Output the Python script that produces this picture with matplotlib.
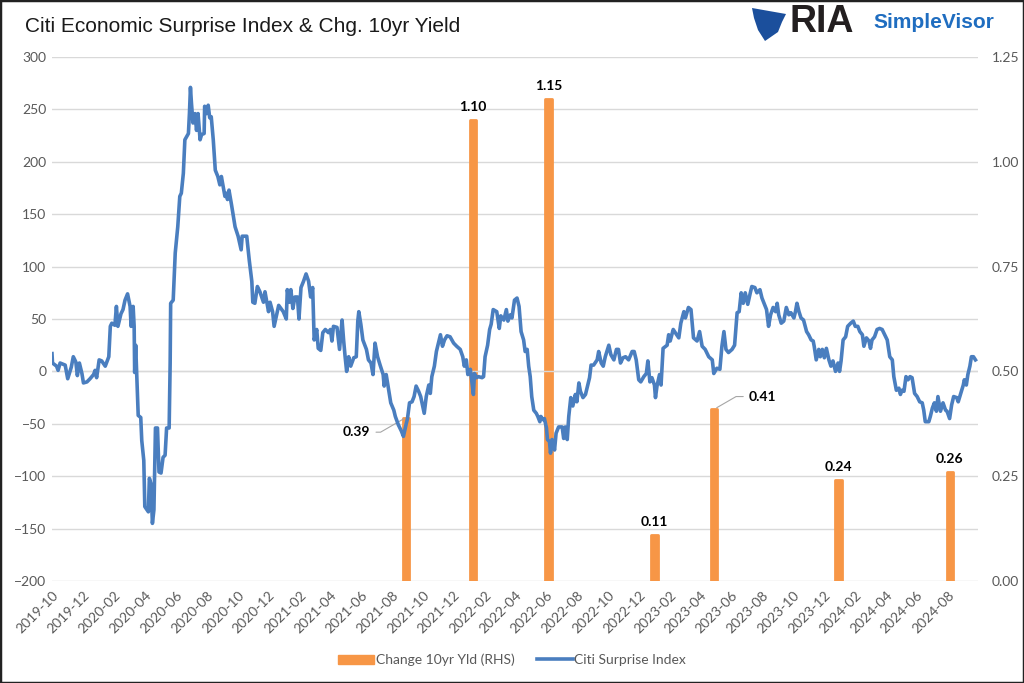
import matplotlib
matplotlib.use("Agg")
import matplotlib.pyplot as plt
import matplotlib.dates as mdates
import matplotlib.patches as patches
import matplotlib.ticker as mticker
import pandas as pd

# ===== DATA =====
surprise_dates = [
    "2019-10-01", "2019-10-02", "2019-10-10", "2019-10-13", "2019-10-17", "2019-10-27", "2019-11-01",
    "2019-11-08", "2019-11-12", "2019-11-17", "2019-11-20", "2019-11-24", "2019-11-29", "2019-12-02",
    "2019-12-09", "2019-12-15", "2019-12-22", "2019-12-25", "2019-12-28", "2020-01-02", "2020-01-07",
    "2020-01-14", "2020-01-21", "2020-01-24", "2020-01-27", "2020-02-02", "2020-02-05", "2020-02-08",
    "2020-02-14", "2020-02-18", "2020-02-22", "2020-02-27", "2020-03-03", "2020-03-05", "2020-03-09",
    "2020-03-11", "2020-03-12", "2020-03-14", "2020-03-16", "2020-03-19", "2020-03-24", "2020-03-26",
    "2020-03-30", "2020-04-01", "2020-04-08", "2020-04-10", "2020-04-13", "2020-04-16", "2020-04-19",
    "2020-04-22", "2020-04-26", "2020-04-29", "2020-05-03", "2020-05-07", "2020-05-11", "2020-05-14",
    "2020-05-19", "2020-05-21", "2020-05-22", "2020-05-27", "2020-05-31", "2020-06-05", "2020-06-09",
    "2020-06-12", "2020-06-16", "2020-06-19", "2020-06-26", "2020-06-28", "2020-06-30", "2020-07-02",
    "2020-07-05", "2020-07-09", "2020-07-12", "2020-07-15", "2020-07-19", "2020-07-22", "2020-07-27",
    "2020-07-28", "2020-08-01", "2020-08-04", "2020-08-07", "2020-08-10", "2020-08-14", "2020-08-18",
    "2020-08-23", "2020-08-27", "2020-08-30", "2020-09-06", "2020-09-09", "2020-09-11", "2020-09-14",
    "2020-09-19", "2020-09-26", "2020-10-02", "2020-10-08", "2020-10-10", "2020-10-15", "2020-10-19",
    "2020-10-24", "2020-10-29", "2020-10-31", "2020-11-04", "2020-11-09", "2020-11-14", "2020-11-21",
    "2020-11-24", "2020-12-01", "2020-12-04", "2020-12-09", "2020-12-12", "2020-12-21", "2020-12-30",
    "2021-01-05", "2021-01-07", "2021-01-11", "2021-01-14", "2021-01-18", "2021-01-22", "2021-01-27",
    "2021-01-30", "2021-02-03", "2021-02-08", "2021-02-13", "2021-02-18", "2021-02-22", "2021-02-26",
    "2021-03-01", "2021-03-06", "2021-03-09", "2021-03-14", "2021-03-18", "2021-03-23", "2021-03-29",
    "2021-04-02", "2021-04-05", "2021-04-08", "2021-04-15", "2021-04-20", "2021-04-25", "2021-04-28",
    "2021-05-01", "2021-05-04", "2021-05-08", "2021-05-12", "2021-05-18", "2021-05-23", "2021-05-26",
    "2021-05-28", "2021-06-01", "2021-06-05", "2021-06-12", "2021-06-16", "2021-06-21", "2021-06-25",
    "2021-06-29", "2021-07-04", "2021-07-09", "2021-07-15", "2021-07-17", "2021-07-21", "2021-07-26",
    "2021-07-30", "2021-08-05", "2021-08-08", "2021-08-14", "2021-08-20", "2021-08-24", "2021-08-29",
    "2021-09-01", "2021-09-05", "2021-09-10", "2021-09-14", "2021-09-18", "2021-09-23", "2021-09-27",
    "2021-10-01", "2021-10-04", "2021-10-08", "2021-10-13", "2021-10-16", "2021-10-19", "2021-10-24",
    "2021-10-28", "2021-11-01", "2021-11-05", "2021-11-09", "2021-11-13", "2021-11-18", "2021-11-24",
    "2021-12-01", "2021-12-07", "2021-12-14", "2021-12-19", "2021-12-22", "2021-12-26", "2021-12-29",
    "2022-01-03", "2022-01-06", "2022-01-09", "2022-01-11", "2022-01-15", "2022-01-19", "2022-01-26",
    "2022-01-29", "2022-02-01", "2022-02-06", "2022-02-10", "2022-02-13", "2022-02-17", "2022-02-24",
    "2022-03-01", "2022-03-04", "2022-03-10", "2022-03-15", "2022-03-18", "2022-03-23", "2022-03-26",
    "2022-03-31", "2022-04-05", "2022-04-09", "2022-04-13", "2022-04-18", "2022-04-21", "2022-04-25",
    "2022-04-28", "2022-05-01", "2022-05-04", "2022-05-08", "2022-05-13", "2022-05-16", "2022-05-20",
    "2022-05-22", "2022-05-26", "2022-05-29", "2022-06-02", "2022-06-04", "2022-06-08", "2022-06-10",
    "2022-06-13", "2022-06-18", "2022-06-21", "2022-06-26", "2022-07-03", "2022-07-06", "2022-07-09",
    "2022-07-13", "2022-07-16", "2022-07-20", "2022-07-24", "2022-07-29", "2022-08-01", "2022-08-05",
    "2022-08-08", "2022-08-13", "2022-08-18", "2022-08-22", "2022-08-26", "2022-08-29", "2022-09-03",
    "2022-09-10", "2022-09-13", "2022-09-18", "2022-09-22", "2022-09-26", "2022-10-03", "2022-10-07",
    "2022-10-13", "2022-10-18", "2022-10-22", "2022-10-26", "2022-10-31", "2022-11-05", "2022-11-11",
    "2022-11-18", "2022-11-22", "2022-11-26", "2022-12-01", "2022-12-05", "2022-12-11", "2022-12-16",
    "2022-12-19", "2022-12-23", "2022-12-27", "2023-01-01", "2023-01-03", "2023-01-06", "2023-01-11",
    "2023-01-14", "2023-01-18", "2023-01-26", "2023-01-29", "2023-02-01", "2023-02-07", "2023-02-11",
    "2023-02-18", "2023-02-22", "2023-02-28", "2023-03-03", "2023-03-09", "2023-03-14", "2023-03-19",
    "2023-03-26", "2023-03-31", "2023-04-05", "2023-04-11", "2023-04-18", "2023-04-25", "2023-04-28",
    "2023-05-04", "2023-05-10", "2023-05-14", "2023-05-18", "2023-05-22", "2023-05-27", "2023-06-03",
    "2023-06-08", "2023-06-13", "2023-06-17", "2023-06-21", "2023-06-25", "2023-06-29", "2023-07-04",
    "2023-07-09", "2023-07-12", "2023-07-18", "2023-07-22", "2023-07-28", "2023-08-01", "2023-08-06",
    "2023-08-10", "2023-08-14", "2023-08-18", "2023-08-23", "2023-08-28", "2023-08-31", "2023-09-03",
    "2023-09-08", "2023-09-13", "2023-09-18", "2023-09-23", "2023-09-27", "2023-10-03", "2023-10-06",
    "2023-10-09", "2023-10-13", "2023-10-17", "2023-10-22", "2023-10-28", "2023-11-01", "2023-11-06",
    "2023-11-10", "2023-11-12", "2023-11-16", "2023-11-21", "2023-11-24", "2023-11-28", "2023-12-02",
    "2023-12-06", "2023-12-11", "2023-12-15", "2023-12-19", "2023-12-24", "2023-12-29", "2024-01-01",
    "2024-01-04", "2024-01-08", "2024-01-13", "2024-01-17", "2024-01-23", "2024-01-28", "2024-02-01",
    "2024-02-06", "2024-02-10", "2024-02-15", "2024-02-18", "2024-02-23", "2024-02-28", "2024-03-02",
    "2024-03-05", "2024-03-10", "2024-03-15", "2024-03-20", "2024-03-25", "2024-03-30", "2024-04-04",
    "2024-04-09", "2024-04-14", "2024-04-17", "2024-04-22", "2024-04-27", "2024-04-30", "2024-05-03",
    "2024-05-07", "2024-05-11", "2024-05-15", "2024-05-19", "2024-05-23", "2024-05-28", "2024-06-02",
    "2024-06-07", "2024-06-12", "2024-06-15", "2024-06-18", "2024-06-25", "2024-06-28", "2024-07-02",
    "2024-07-06", "2024-07-10", "2024-07-13", "2024-07-18", "2024-07-23", "2024-07-28", "2024-07-31",
    "2024-08-05", "2024-08-09", "2024-08-13", "2024-08-19", "2024-08-22", "2024-08-27", "2024-09-01",
    "2024-09-03", "2024-09-07", "2024-09-10", "2024-09-14", "2024-09-17", "2024-09-21", "2024-09-25",
]
surprise_values = [
    17, 8, 5, 1, 8, 6, -7,
    4, 14, 9, -4, 8, -2, -11,
    -10, -7, -3, 1, -6, 11, 10,
    5, 14, 43, 46, 44, 62, 43,
    55, 59, 68, 74, 62, 43, 62,
    43, -1, 25, -2, -42, -44, -66,
    -85, -129, -134, -102, -107, -145, -132,
    -54, -54, -96, -97, -82, -80, -54,
    -54, 8, 65, 68, 113, 138, 167,
    170, 189, 221, 227, 246, 271, 256,
    237, 246, 230, 246, 221, 226, 227,
    253, 246, 254, 242, 243, 221, 192,
    186, 178, 186, 167, 170, 164, 173,
    159, 138, 129, 116, 129, 129, 129,
    106, 86, 66, 65, 81, 76, 66,
    76, 57, 66, 57, 43, 63, 57,
    50, 78, 66, 78, 60, 71, 71,
    50, 80, 86, 93, 86, 71, 80,
    30, 40, 22, 20, 37, 40, 37,
    40, 29, 43, 42, 21, 49, 30,
    14, 0, 14, 5, 13, 14, 48,
    57, 45, 30, 21, 11, 8, -3,
    27, 14, 6, -3, -14, -3, -18,
    -30, -37, -43, -51, -57, -62, -51,
    -45, -30, -29, -24, -14, -19, -24,
    -33, -40, -24, -13, -21, -5, 5,
    19, 27, 35, 24, 30, 34, 33,
    27, 24, 21, 14, 5, 11, -3,
    2, -10, -22, -2, -6, -5, -6,
    -5, 14, 25, 40, 45, 59, 57,
    41, 53, 49, 59, 48, 54, 51,
    68, 70, 62, 38, 30, 19, 21,
    5, -5, -24, -37, -40, -43, -48,
    -43, -46, -45, -54, -65, -67, -78,
    -65, -75, -59, -53, -53, -64, -53,
    -65, -43, -25, -33, -22, -29, -11,
    -19, -25, -22, -14, -6, 6, 6,
    11, 19, 8, 5, 14, 25, 16,
    11, 21, 21, 8, 13, 14, 11,
    19, 19, 11, -8, -10, -5, -2,
    10, -10, -6, -13, -25, -14, -3,
    -13, 22, 25, 35, 29, 40, 37,
    32, 46, 57, 51, 61, 59, 32,
    29, 38, 24, 21, 14, 11, -2,
    3, 2, 24, 38, 21, 18, 21,
    25, 56, 57, 75, 65, 75, 64,
    75, 81, 80, 75, 78, 70, 64,
    59, 43, 54, 61, 57, 65, 54,
    46, 48, 61, 54, 56, 51, 57,
    65, 57, 51, 49, 38, 35, 30,
    29, 24, 11, 21, 14, 21, 13,
    22, 11, 5, 10, 0, 8, 0,
    10, 30, 33, 43, 46, 48, 43,
    43, 38, 35, 24, 32, 29, 22,
    30, 33, 40, 41, 40, 35, 30,
    14, 11, -5, -18, -16, -22, -18,
    -19, -5, -8, -5, -6, -21, -24,
    -29, -30, -37, -48, -48, -43, -35,
    -30, -38, -24, -38, -30, -37, -38,
    -45, -32, -24, -25, -29, -21, -13,
    -8, -13, -3, 5, 14, 14, 11,
]

yield_dates = ["2021-08-29", "2022-01-08", "2022-06-06", "2023-01-01", "2023-04-29", "2023-12-30", "2024-08-05"]
yield_changes = [0.39, 1.10, 1.15, 0.11, 0.41, 0.24, 0.26]

# ===== STYLE =====
blue = "#4A7EBF"
orange = "#F79646"
grey_txt = "#595959"
grid_col = "#D9D9D9"

plt.rcParams["font.family"] = ["Lato", "DejaVu Sans"]

s_dates = pd.to_datetime(surprise_dates)
y_dates = pd.to_datetime(yield_dates)

fig = plt.figure(figsize=(10.24, 6.83), dpi=100)
W, H = 1024, 683
ax2 = fig.add_axes([52 / W, 1 - 581 / H, (978 - 52) / W, (581 - 57) / H])
ax = ax2.twinx()
ax.yaxis.tick_left()
ax2.yaxis.tick_right()
ax.set_zorder(ax2.get_zorder() + 1)
ax.patch.set_visible(False)

# bars (RHS)
ax2.bar(y_dates, yield_changes, width=12, color=orange, edgecolor=orange,
        linewidth=2, joinstyle="round", zorder=2)
ax2.set_ylim(0, 1.25)
ax2.yaxis.set_major_locator(mticker.MultipleLocator(0.25))
ax2.yaxis.set_minor_locator(mticker.MultipleLocator(0.125))
ax2.yaxis.set_major_formatter(mticker.FormatStrFormatter("%.2f"))
ax2.grid(which="both", axis="y", color=grid_col, lw=1, zorder=0)
ax2.set_axisbelow(True)
ax2.tick_params(axis="y", which="both", length=0, pad=10, labelsize=10, labelcolor=grey_txt)

# line (LHS)
ax.axhline(0, color=grid_col, lw=1, zorder=1)
ax.plot(s_dates, surprise_values, color=blue, lw=2.6, solid_joinstyle="round", zorder=3)
ax.set_ylim(-200, 300)
ax.yaxis.set_major_locator(mticker.MultipleLocator(50))
ax.tick_params(axis="y", length=0, pad=4, labelsize=10, labelcolor=grey_txt)

ax2.set_xlim(pd.Timestamp("2019-10-01"), pd.Timestamp("2024-09-30"))
ax2.xaxis.set_major_locator(mdates.MonthLocator(bymonth=[2, 4, 6, 8, 10, 12]))
ax2.xaxis.set_major_formatter(mdates.DateFormatter("%Y-%m"))
ax2.tick_params(axis="x", length=0, pad=6, labelsize=10, labelcolor=grey_txt)
for lab in ax2.get_xticklabels():
    lab.set_rotation(45)
    lab.set_ha("right")
    lab.set_va("top")
    lab.set_rotation_mode("anchor")
ax.tick_params(axis="x", length=0)

for a in (ax, ax2):
    for sp in a.spines.values():
        sp.set_visible(False)

# data labels
for d, v in zip(y_dates, yield_changes):
    txt = f"{v:.2f}"
    if v == 0.39:
        ax2.annotate(txt, xy=(d, v), xytext=(d - pd.Timedelta(days=70), v - 0.035),
                     ha="right", va="center", fontsize=10, fontweight="bold",
                     arrowprops=dict(arrowstyle="-", color="#A6A6A6", lw=0.8,
                                     connectionstyle="angle,angleA=0,angleB=30,rad=0"))
    elif v == 0.41:
        ax2.annotate(txt, xy=(d, v), xytext=(d + pd.Timedelta(days=68), v + 0.03),
                     ha="left", va="center", fontsize=10, fontweight="bold",
                     arrowprops=dict(arrowstyle="-", color="#A6A6A6", lw=0.8,
                                     connectionstyle="angle,angleA=0,angleB=30,rad=0"))
    else:
        ax2.annotate(txt, xy=(d, v), xytext=(0, 5), textcoords="offset points",
                     ha="center", va="bottom", fontsize=10, fontweight="bold")

# legend
handles = [patches.Patch(facecolor=orange, edgecolor=orange, label="Change 10yr Yld (RHS)"),
           plt.Line2D([], [], color=blue, lw=2.6, label="Citi Surprise Index")]
leg = fig.legend(handles=handles, loc="center", bbox_to_anchor=(0.5, 1 - 660 / H), ncol=2,
                 frameon=False, fontsize=10, handlelength=2.6, handletextpad=0.1,
                 columnspacing=1.6)
for t in leg.get_texts():
    t.set_color(grey_txt)

# title and branding
fig.text(25 / W, 1 - 26 / H, "Citi Economic Surprise Index & Chg. 10yr Yield",
         fontsize=15, family="Liberation Sans", color="#1A1A1A", va="center", ha="left")
fig.text(790 / W, 1 - 22 / H, "RIA", fontsize=27, fontweight="bold",
         family="Liberation Sans", color="#231F20", va="center", ha="left")
fig.text(873 / W, 1 - 23 / H, "SimpleVisor", fontsize=15, fontweight="bold",
         family="Liberation Sans", color="#1F6DC0", va="center", ha="left")
eagle = patches.Polygon([(752 / W, 1 - 8 / H), (786 / W, 1 - 14 / H), (782 / W, 1 - 22 / H),
                         (778 / W, 1 - 32 / H), (765 / W, 1 - 41 / H), (758 / W, 1 - 30 / H),
                         (754 / W, 1 - 18 / H)],
                        closed=True, transform=fig.transFigure, facecolor="#1B4F9C",
                        edgecolor="none")
fig.patches.append(eagle)

# outer frame
fig.patches.append(patches.Rectangle((0, 0), 1, 1, transform=fig.transFigure, fill=False,
                                     edgecolor="#222222", lw=2.5))

fig.savefig("out.png", dpi=100)
